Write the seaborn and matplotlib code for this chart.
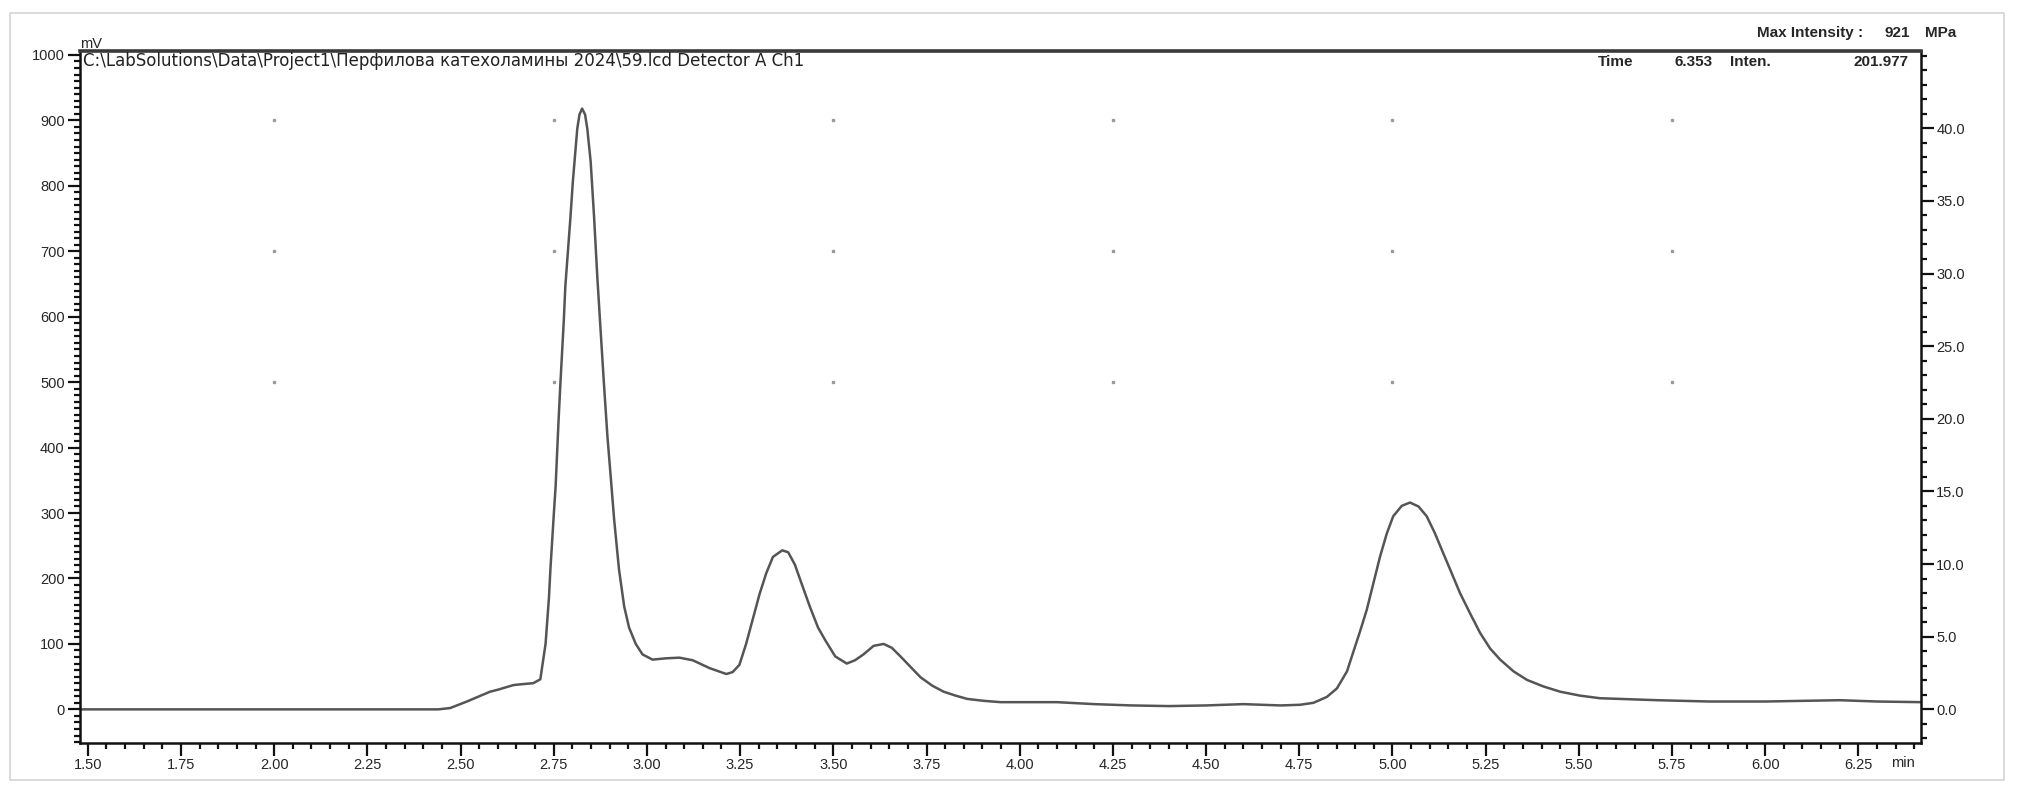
import matplotlib
matplotlib.use("Agg")
import matplotlib.pyplot as plt
from matplotlib import font_manager
from matplotlib.ticker import MultipleLocator, FormatStrFormatter
from matplotlib.patches import Rectangle
import seaborn as sns
import pandas as pd

# ---- data ----
time_min = [1.479, 2.30, 2.44, 2.472, 2.517, 2.55, 2.579, 2.60, 2.641, 2.656, 2.695, 2.714,
            2.728, 2.737, 2.741, 2.750, 2.755, 2.763, 2.768, 2.777, 2.781, 2.795, 2.801, 2.813,
            2.819, 2.826, 2.834, 2.840, 2.849, 2.858, 2.867, 2.876, 2.885, 2.894, 2.903, 2.912,
            2.925, 2.939, 2.952, 2.970, 2.988, 3.015, 3.051, 3.087, 3.123, 3.168, 3.213, 3.230,
            3.248, 3.266, 3.284, 3.302, 3.320, 3.338, 3.363, 3.379, 3.397, 3.415, 3.437, 3.459,
            3.478, 3.505, 3.536, 3.558, 3.581, 3.608, 3.635, 3.657, 3.680, 3.707, 3.734, 3.766,
            3.796, 3.828, 3.859, 3.904, 3.949, 4.10, 4.20, 4.30, 4.40, 4.50, 4.60, 4.70,
            4.752, 4.788, 4.824, 4.851, 4.878, 4.894, 4.913, 4.931, 4.949, 4.967, 4.985, 5.002,
            5.025, 5.047, 5.070, 5.092, 5.114, 5.136, 5.159, 5.181, 5.208, 5.235, 5.262, 5.289,
            5.325, 5.361, 5.405, 5.450, 5.503, 5.557, 5.71, 5.85, 6.00, 6.10, 6.20, 6.30, 6.418]
signal_mv = [0, 0, 0, 2, 12, 20, 27, 30, 37, 38, 40, 46,
             100, 170, 214, 297, 341, 443, 500, 595, 646, 754, 805, 887,
             909, 918, 909, 887, 837, 754, 659, 576, 494, 417, 354, 290,
             214, 157, 125, 100, 84, 76, 78, 79, 75, 63, 54, 57,
             68, 100, 138, 176, 208, 233, 243, 240, 221, 192, 157, 125,
             106, 81, 70, 75, 84, 97, 100, 94, 81, 65, 49, 36,
             27, 21, 16, 13, 11, 11, 8, 6, 5, 6, 8, 6,
             7, 10, 19, 32, 58, 86, 119, 152, 193, 234, 269, 295,
             311, 316, 310, 295, 269, 239, 208, 178, 147, 117, 93, 76,
             58, 45, 35, 27, 21, 17, 14, 12, 12, 13, 14, 12, 11]

x_ticks = [1.50, 1.75, 2.00, 2.25, 2.50, 2.75, 3.00, 3.25, 3.50, 3.75, 4.00, 4.25,
           4.50, 4.75, 5.00, 5.25, 5.50, 5.75, 6.00, 6.25]
y_ticks_mv = [0, 100, 200, 300, 400, 500, 600, 700, 800, 900, 1000]
y_ticks_mpa = [0.0, 5.0, 10.0, 15.0, 20.0, 25.0, 30.0, 35.0, 40.0]
grid_x = [2.00, 2.75, 3.50, 4.25, 5.00, 5.75]
grid_y = [900, 700, 500]

path_label = "C:\\LabSolutions\\Data\\Project1\\Перфилова катехоламины 2024\\59.lcd Detector A Ch1"

sns.set_theme(style="ticks")
names = {f.name for f in font_manager.fontManager.ttflist}
tick_font = "Liberation Sans Narrow" if "Liberation Sans Narrow" in names else "Liberation Sans"
plt.rcParams["font.family"] = ["Liberation Sans", "DejaVu Sans"]

W, H = 2026, 802
fig = plt.figure(figsize=(W / 100, H / 100), dpi=100)
fig.patch.set_facecolor("white")

def fx(px):
    return px / W

def fy(py):
    return 1 - py / H

# outer light frame
fig.patches.append(Rectangle((fx(10), fy(780)), fx(2004) - fx(10), fy(13) - fy(780),
                             transform=fig.transFigure, fill=False, edgecolor="#d4d4d4", lw=1.2))

ax = fig.add_axes([fx(80), fy(743), fx(1921) - fx(80), fy(51) - fy(743)])
ax.set_facecolor("white")

df = pd.DataFrame({"t": time_min, "mv": signal_mv})
sns.lineplot(data=df, x="t", y="mv", ax=ax, color="#555555", lw=1.8, estimator=None, sort=False)
ax.lines[-1].set_solid_joinstyle("round")

ax.set_xlim(1.479, 6.418)
ax.set_ylim(-51.4, 1006)
ax.set_xlabel("")
ax.set_ylabel("")

# dotted grid points
for gx in grid_x:
    for gy in grid_y:
        ax.plot([gx], [gy], marker="s", ms=1.6, color="#9a9a9a", lw=0)

ax.set_xticks(x_ticks)
ax.xaxis.set_major_formatter(FormatStrFormatter("%.2f"))
ax.xaxis.set_minor_locator(MultipleLocator(0.05))
ax.set_yticks(y_ticks_mv)
ax.yaxis.set_minor_locator(MultipleLocator(10))

for s in ["left", "bottom", "right"]:
    ax.spines[s].set_color("#111111")
    ax.spines[s].set_linewidth(1.8)
ax.spines["top"].set_color("#3a3a3a")
ax.spines["top"].set_linewidth(2.6)

ax.tick_params(axis="both", which="major", direction="out", length=9, width=1.6,
               color="#111111", labelsize=10.5, pad=2)
ax.tick_params(axis="both", which="minor", direction="out", length=4, width=1.6, color="#111111")
for lab in ax.get_xticklabels() + ax.get_yticklabels():
    lab.set_fontfamily(tick_font)

ax2 = ax.twinx()
ax2.set_ylim(-51.4 / 22.2, 1006 / 22.2)
ax2.set_yticks(y_ticks_mpa)
ax2.yaxis.set_major_formatter(FormatStrFormatter("%.1f"))
ax2.yaxis.set_minor_locator(MultipleLocator(1.0))
ax2.tick_params(axis="y", which="major", direction="out", length=9, width=1.6,
                color="#111111", labelsize=10.5, pad=2)
ax2.tick_params(axis="y", which="minor", direction="out", length=4, width=1.6, color="#111111")
for lab in ax2.get_yticklabels():
    lab.set_fontfamily(tick_font)
for s in ax2.spines.values():
    s.set_visible(False)

# texts
fig.text(fx(80), fy(44), "mV", fontsize=10.5, ha="left", va="center", family=tick_font)
fig.text(fx(83), fy(61), path_label, fontsize=12, ha="left", va="center",
         family=["DejaVu Sans"], color="#222222")
fig.text(fx(1863), fy(33), "Max Intensity :", fontsize=11, ha="right", va="center", weight="bold")
fig.text(fx(1910), fy(33), "921", fontsize=11, ha="right", va="center", weight="bold")
fig.text(fx(1925), fy(33), "MPa", fontsize=11, ha="left", va="center", weight="bold")
fig.text(fx(1598), fy(62), "Time", fontsize=11, ha="left", va="center", weight="bold")
fig.text(fx(1713), fy(62), "6.353", fontsize=11, ha="right", va="center", weight="bold")
fig.text(fx(1730), fy(62), "Inten.", fontsize=11, ha="left", va="center", weight="bold")
fig.text(fx(1908), fy(62), "201.977", fontsize=11, ha="right", va="center", weight="bold")
fig.text(fx(1903), fy(763), "min", fontsize=10.5, ha="center", va="center", family=tick_font)

fig.savefig("out.png", dpi=100, facecolor="white")
